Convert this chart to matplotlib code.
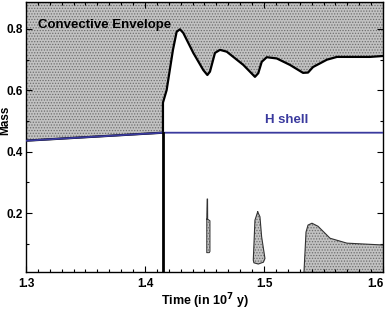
import matplotlib.pyplot as plt
from matplotlib.ticker import MultipleLocator, FormatStrFormatter

plt.rcParams['font.family'] = ['Liberation Sans', 'DejaVu Sans']
plt.rcParams['font.weight'] = 'bold'
plt.rcParams['hatch.linewidth'] = 0.6

# lower edge of the convective envelope (time in 1e7 y, mass)
env_t = [1.300, 1.4151, 1.4151, 1.4182, 1.4235, 1.4266, 1.4294, 1.4322, 1.4406,
         1.4490, 1.4524, 1.4546, 1.4588, 1.4630, 1.4687, 1.4826, 1.4924, 1.4952,
         1.4981, 1.5023, 1.5107, 1.5218, 1.5328, 1.5370, 1.5412, 1.5529, 1.5613,
         1.5891, 1.600]
env_m = [0.436, 0.462, 0.560, 0.601, 0.732, 0.791, 0.799, 0.787, 0.722,
         0.666, 0.650, 0.661, 0.722, 0.732, 0.726, 0.683, 0.644, 0.656,
         0.693, 0.708, 0.704, 0.683, 0.657, 0.658, 0.676, 0.700, 0.709,
         0.709, 0.712]

# H-burning shell
shell_t = [1.300, 1.4151, 1.600]
shell_m = [0.436, 0.462, 0.462]

# small convective pockets (closed outlines)
pocket1_t = [1.4519, 1.4522, 1.4526, 1.4527, 1.4546, 1.4546, 1.4540, 1.4519, 1.4519]
pocket1_m = [0.180, 0.246, 0.246, 0.180, 0.175, 0.075, 0.071, 0.071, 0.180]
pocket2_t = [1.4947, 1.4966, 1.4980, 1.5008, 1.4995, 1.4952, 1.4915, 1.4910, 1.4924, 1.4947]
pocket2_m = [0.204, 0.188, 0.123, 0.052, 0.040, 0.034, 0.038, 0.047, 0.177, 0.204]
# pocket rising from the bottom near the end
pocket3_t = [1.5336, 1.5353, 1.5370, 1.5403, 1.5454, 1.5555, 1.5697, 1.600]
pocket3_m = [0.008, 0.138, 0.161, 0.167, 0.157, 0.118, 0.102, 0.096]

x_ticks = [1.3, 1.4, 1.5, 1.6]
y_ticks = [0.2, 0.4, 0.6, 0.8]

XLIM = (1.3, 1.6)
YLIM = (0.008, 0.888)
FILL = '#c2c2c2'
HATCH_COLOR = '#6e6e6e'
BLUE = '#3a3a9e'

fig = plt.figure(figsize=(3.89, 3.11), dpi=100)
ax = fig.add_axes([0.0668, 0.1254, 0.9178, 0.8682])

ax.fill_between(env_t, env_m, YLIM[1], facecolor=FILL, edgecolor=HATCH_COLOR,
                hatch='......', linewidth=0)
ax.plot(env_t, env_m, color='black', lw=1.6, zorder=3)
ax.fill(pocket1_t, pocket1_m, facecolor=FILL, edgecolor=HATCH_COLOR, hatch='......', lw=0)
ax.plot(pocket1_t, pocket1_m, color='#333333', lw=0.7)
ax.fill(pocket2_t, pocket2_m, facecolor=FILL, edgecolor=HATCH_COLOR, hatch='......', lw=0)
ax.plot(pocket2_t, pocket2_m, color='#333333', lw=0.8)
ax.fill_between(pocket3_t, YLIM[0], pocket3_m, facecolor=FILL, edgecolor=HATCH_COLOR,
                hatch='......', linewidth=0)
ax.plot(pocket3_t, pocket3_m, color='#333333', lw=0.8)

ax.plot(shell_t, shell_m, color=BLUE, lw=1.3, zorder=4)
ax.plot([env_t[1], env_t[1]], [YLIM[0], shell_m[1]], color='black', lw=2.0, zorder=4)

ax.text(1.3101, 0.813, 'Convective Envelope', fontsize=9.5, fontweight='bold',
        ha='left', va='center')
ax.text(1.5193, 0.503, 'H shell', fontsize=9.5, fontweight='bold', color=BLUE,
        ha='center', va='center')

ax.set_xlim(*XLIM)
ax.set_ylim(*YLIM)
ax.set_xticks(x_ticks)
ax.set_yticks(y_ticks)
ax.xaxis.set_minor_locator(MultipleLocator(0.01))
ax.yaxis.set_minor_locator(MultipleLocator(0.1))
ax.xaxis.set_major_formatter(FormatStrFormatter('%.1f'))
ax.yaxis.set_major_formatter(FormatStrFormatter('%.1f'))
ax.tick_params(which='both', direction='in', top=True, right=True, labelsize=8.5,
               width=0.8)
ax.tick_params(axis='x', pad=4)
ax.tick_params(axis='y', pad=2)
ax.tick_params(which='major', length=4)
ax.tick_params(which='minor', length=2)
for tick in ax.xaxis.get_major_ticks() + ax.yaxis.get_major_ticks():
    tick.label1.set_fontweight('bold')
ax.xaxis.get_major_ticks()[-1].label1.set_ha('right')
for s in ax.spines.values():
    s.set_linewidth(1.0)

ax.set_xlabel('Time (in 10$^7$ y)', fontsize=9, fontweight='bold', labelpad=1.5)
ax.set_ylabel('Mass', fontsize=8.5, fontweight='bold')
ax.yaxis.set_label_coords(-0.04, 0.5625)

fig.savefig('out.png', dpi=100)
